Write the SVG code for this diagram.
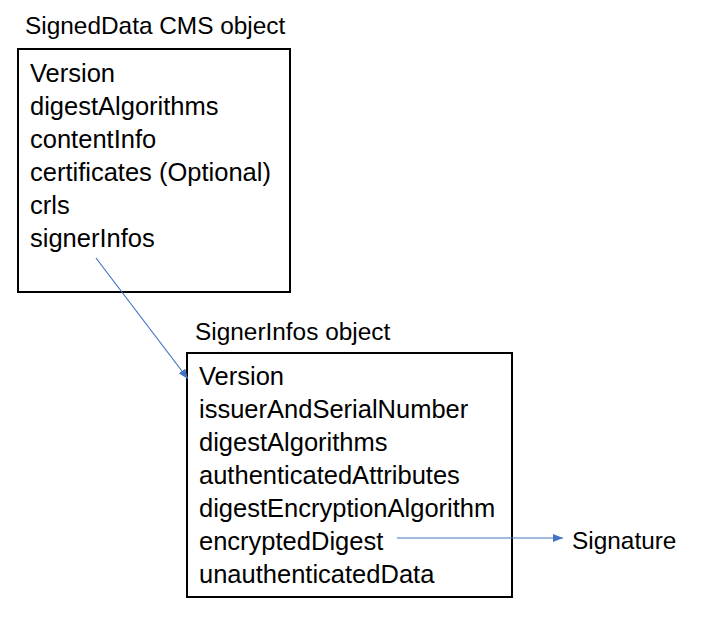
<svg xmlns="http://www.w3.org/2000/svg" width="702" height="619" viewBox="0 0 702 619">
<style>
text{font-family:"Liberation Sans",Arial,sans-serif;font-size:25.5px;fill:#000}
text.title{font-size:24.4px}
.box{fill:#fff;stroke:#000;stroke-width:2}
.conn{stroke:#4472C4;stroke-width:1.2;fill:none}
</style>
<defs>
<marker id="ah" markerWidth="10" markerHeight="8" refX="10" refY="4" orient="auto" markerUnits="userSpaceOnUse">
<path d="M0,0 L10,4 L0,8 Z" fill="#4472C4"/>
</marker>
</defs>
<rect width="702" height="619" fill="#fff"/>
<g id="signedData">
<text class="title" x="25" y="34">SignedData CMS object</text>
<rect class="box" x="18" y="49" width="272" height="243"/>
<text x="30" y="82">Version</text>
<text x="30" y="115">digestAlgorithms</text>
<text x="30" y="148">contentInfo</text>
<text x="30" y="181">certificates (Optional)</text>
<text x="30" y="214">crls</text>
<text x="30" y="247">signerInfos</text>
</g>
<g id="signerInfos">
<text class="title" x="195" y="340">SignerInfos object</text>
<rect class="box" x="187" y="353" width="325" height="244"/>
<text x="199" y="385">Version</text>
<text x="199" y="418">issuerAndSerialNumber</text>
<text x="199" y="451">digestAlgorithms</text>
<text x="199" y="484">authenticatedAttributes</text>
<text x="199" y="517">digestEncryptionAlgorithm</text>
<text x="199" y="550">encryptedDigest</text>
<text x="199" y="583">unauthenticatedData</text>
</g>
<g id="signature">
<text class="title" x="572" y="549">Signature</text>
</g>
<g id="connectors">
<line class="conn" x1="96" y1="258" x2="188" y2="379" marker-end="url(#ah)"/>
<line class="conn" x1="397" y1="538" x2="563" y2="538" marker-end="url(#ah)"/>
</g>
</svg>
